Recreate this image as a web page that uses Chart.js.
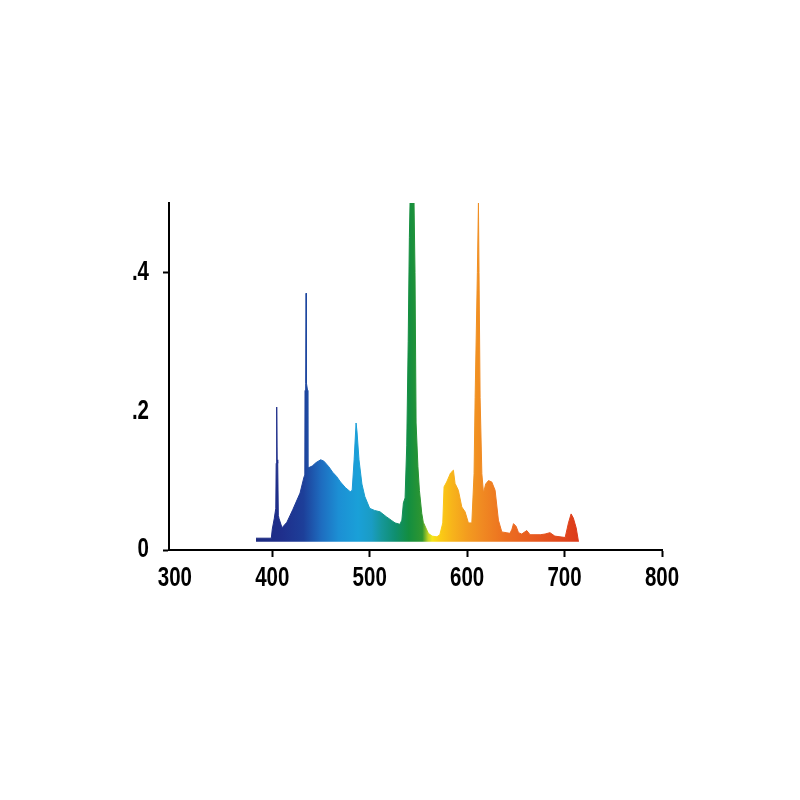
<!DOCTYPE html>
<html>
<head>
<meta charset="utf-8">
<script src="https://cdn.jsdelivr.net/npm/chart.js@4"></script>
<style>
  html, body { margin: 0; padding: 0; background: #fff; }
  canvas { display: block; }
</style>
</head>
<body>
<canvas id="spectrumChart" width="800" height="800"></canvas>
<script>
// Spectrum data
const wavelengths = [
  383.3, 399.0, 400.0, 402.0, 403.6, 404.0, 404.4, 404.7, 405.0, 405.6, 406.2, 407.0,
  410.0, 415.0, 421.0, 428.5, 432.5, 433.4, 433.6, 434.3, 434.7, 435.1, 436.2, 436.5,
  441.0, 445.0, 449.7, 453.0, 458.0, 462.0, 466.0, 470.0, 475.0, 480.0, 482.0, 484.0,
  486.0, 487.0, 489.0, 492.0, 495.0, 500.0, 505.0, 510.6, 517.0, 522.0, 526.0, 531.0,
  533.0, 534.6, 536.3, 538.0, 539.5, 540.7, 541.4, 545.5, 546.5, 547.6, 549.5, 551.0,
  553.4, 555.0, 560.2, 564.0, 569.0, 572.0, 575.0, 576.3, 579.0, 583.0, 585.9, 587.6,
  591.0, 594.5, 597.9, 601.3, 604.8, 607.1, 608.2, 610.5, 611.6, 612.2, 613.3, 615.1,
  616.8, 619.0, 621.9, 625.3, 628.7, 632.1, 635.6, 640.0, 644.0, 646.0, 647.6, 650.3,
  652.7, 656.0, 661.2, 664.6, 675.0, 680.0, 685.0, 690.0, 700.6, 704.0, 706.7, 709.0,
  711.9, 714.3
];
const intensities = [
  0.017, 0.017, 0.030, 0.045, 0.060, 0.125, 0.130, 0.206, 0.130, 0.125, 0.050, 0.045,
  0.032, 0.040, 0.058, 0.082, 0.105, 0.108, 0.230, 0.240, 0.370, 0.240, 0.230, 0.118,
  0.121, 0.126, 0.130, 0.128, 0.120, 0.112, 0.106, 0.098, 0.090, 0.084, 0.086, 0.130,
  0.183, 0.170, 0.130, 0.095, 0.077, 0.060, 0.057, 0.055, 0.048, 0.043, 0.039, 0.037,
  0.043, 0.068, 0.075, 0.150, 0.300, 0.450, 0.500, 0.500, 0.400, 0.183, 0.120, 0.086,
  0.053, 0.040, 0.024, 0.020, 0.019, 0.022, 0.039, 0.091, 0.098, 0.111, 0.115, 0.096,
  0.086, 0.062, 0.055, 0.039, 0.039, 0.110, 0.220, 0.400, 0.500, 0.400, 0.220, 0.110,
  0.082, 0.095, 0.100, 0.098, 0.086, 0.043, 0.026, 0.025, 0.024, 0.030, 0.038, 0.034,
  0.025, 0.023, 0.028, 0.022, 0.022, 0.023, 0.025, 0.020, 0.018, 0.039, 0.052, 0.046,
  0.032, 0.012
];
const baseLevel = 0.012;

// Axes
const xTicks = [300, 400, 500, 600, 700, 800];
const yTicks = [0, 0.2, 0.4];
const yTickLabels = ['0', '.2', '.4'];

// Spectral colours for the fill
const colourStops = [
  [383, '#1c2a80'], [410, '#1f2f8c'], [432, '#1d3f99'], [450, '#1e6cbf'],
  [468, '#1c8fd4'], [488, '#1aa0d8'], [502, '#1a9cc4'], [512, '#16979a'],
  [526, '#0f8f70'], [540, '#138e40'], [554, '#2f9630'], [560, '#c4d424'],
  [564, '#f6e51a'], [572, '#fbcc14'], [585, '#f7b31b'], [600, '#f39c1f'],
  [615, '#f08a22'], [640, '#ec6e20'], [670, '#e75920'], [700, '#e0451c'],
  [714, '#dc3a1a']
];

function spectrumGradient(context) {
  const chart = context.chart;
  const { ctx, chartArea, scales } = chart;
  if (!chartArea) return '#1e6cbf';
  const first = colourStops[0][0];
  const span = colourStops[colourStops.length - 1][0] - first;
  const g = ctx.createLinearGradient(scales.x.getPixelForValue(first), 0,
    scales.x.getPixelForValue(first + span), 0);
  colourStops.forEach(([nm, col]) => g.addColorStop((nm - first) / span, col));
  return g;
}

// tick labels in the original are a narrow bold face: draw them squeezed
const narrowLabels = {
  id: 'narrowLabels',
  afterDraw(chart) {
    const { ctx, scales: { x, y } } = chart;
    ctx.save();
    ctx.font = "bold 27px 'Liberation Sans', Arial, sans-serif";
    ctx.fillStyle = '#000';
    ctx.textBaseline = 'middle';
    xTicks.forEach(v => {
      ctx.save();
      ctx.translate(x.getPixelForValue(v), x.top + 29);
      ctx.scale(0.76, 1);
      ctx.textAlign = 'center';
      ctx.fillText(String(v), 0, 0);
      ctx.restore();
    });
    yTicks.forEach((v, i) => {
      ctx.save();
      ctx.translate(y.right - 20, y.getPixelForValue(v));
      ctx.scale(0.76, 1);
      ctx.textAlign = 'right';
      ctx.fillText(yTickLabels[i], 0, 0);
      ctx.restore();
    });
    ctx.restore();
  }
};

const chart = new Chart(document.getElementById('spectrumChart').getContext('2d'), {
  type: 'line',
  data: {
    datasets: [{
      data: wavelengths.map((w, i) => ({ x: w, y: intensities[i] })),
      fill: { value: baseLevel },
      backgroundColor: spectrumGradient,
      borderColor: spectrumGradient,
      borderWidth: 1,
      pointRadius: 0,
      tension: 0
    }]
  },
  options: {
    responsive: false,
    animation: false,
    layout: { padding: { left: 124, top: 203, right: 138, bottom: 196 } },
    plugins: { legend: { display: false }, tooltip: { enabled: false } },
    scales: {
      x: {
        type: 'linear',
        min: 294,
        max: 800,
        afterBuildTicks: s => { s.ticks = xTicks.map(v => ({ value: v })); },
        afterFit: s => { s.height = 54; },
        border: { display: true, color: '#000', width: 2 },
        grid: {
          drawOnChartArea: false,
          tickLength: 7,
          tickWidth: 2,
          tickColor: c => (c.index === 0 ? 'rgba(0,0,0,0)' : '#000')
        },
        ticks: { display: false }
      },
      y: {
        min: 0,
        max: 0.5,
        afterBuildTicks: s => { s.ticks = yTicks.map(v => ({ value: v })); },
        afterFit: s => { s.width = 45; },
        border: { display: true, color: '#000', width: 2 },
        grid: {
          drawOnChartArea: false,
          tickLength: 6,
          tickWidth: 2,
          tickColor: c => (c.index === 1 ? 'rgba(0,0,0,0)' : '#000')
        },
        ticks: { display: false }
      }
    }
  },
  plugins: [narrowLabels]
});
</script>
</body>
</html>
